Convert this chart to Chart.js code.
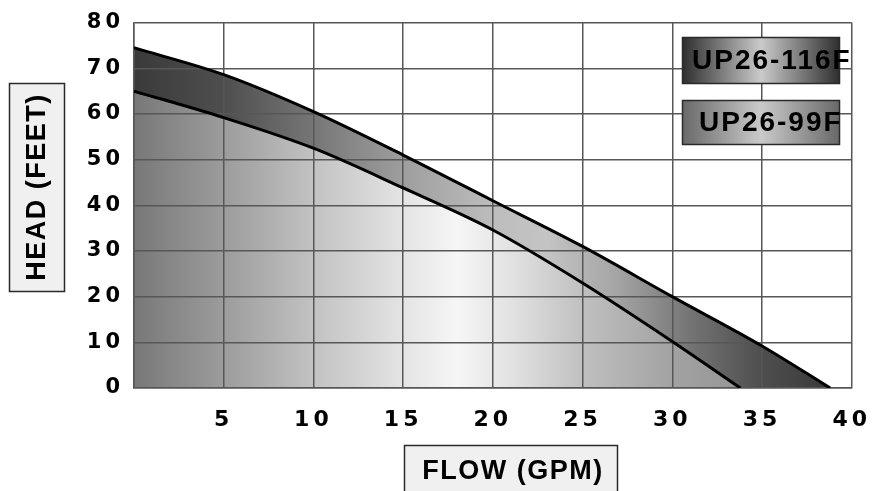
<!DOCTYPE html>
<html>
<head>
<meta charset="utf-8">
<script src="https://cdn.jsdelivr.net/npm/chart.js@4/dist/chart.umd.min.js"></script>
<style>
  html, body { margin: 0; padding: 0; background: #fff; }
  #wrap { width: 890px; height: 491px; position: relative; }
</style>
</head>
<body>
<div id="wrap"><canvas id="pump"></canvas></div>
<script>
// pump curves
const flow116 = [0, 5, 10, 15, 20, 25, 30, 35, 38.8];
const head116 = [74.5, 68.6, 60.5, 51, 41, 31, 20, 9.2, 0];
const flow99 = [0, 5, 10, 15, 20, 25, 30, 33.8];
const head99 = [65, 59.2, 52.5, 43.8, 34.6, 23, 10.2, 0];

const seriesNames = ["UP26-99F", "UP26-116F"];
const xTitle = "FLOW (GPM)";
const yTitle = "HEAD (FEET)";

function toPoints(xs, ys) {
  return xs.map((x, i) => ({ x: x, y: ys[i] }));
}

// horizontal gradient across the plot, stops given in flow units
function flowGradient(context, stops) {
  const chart = context.chart;
  if (!chart.chartArea) return "#999";
  const xs = chart.scales.x;
  const x0 = xs.getPixelForValue(0);
  const x1 = xs.getPixelForValue(40);
  const g = chart.ctx.createLinearGradient(x0, 0, x1, 0);
  stops.forEach(([v, c]) => g.addColorStop(v / 40, c));
  return g;
}

const lowStops = [[0, "#787878"], [5, "#9c9c9c"], [10, "#c2c2c2"], [15, "#e4e4e4"],
  [18, "#f6f6f6"], [21, "#e2e2e2"], [25, "#c0c0c0"], [30, "#a2a2a2"], [34, "#969696"], [40, "#909090"]];
const bandStops = [[0, "#3a3a3a"], [5, "#4e4e4e"], [10, "#767676"], [15, "#9e9e9e"],
  [20, "#bdbdbd"], [23, "#c4c4c4"], [27, "#a4a4a4"], [31, "#747474"], [35, "#4e4e4e"], [39, "#383838"]];

const spacing = {
  id: "spacing",
  beforeLayout(chart) { chart.ctx.letterSpacing = "4px"; },
  beforeDraw(chart) { chart.ctx.letterSpacing = "4px"; }
};

function boxedLabel(ctx, x, y, w, h, fill) {
  ctx.fillStyle = fill;
  ctx.fillRect(x, y, w, h);
  ctx.strokeStyle = "#2a2a2a";
  ctx.lineWidth = 1.5;
  ctx.strokeRect(x, y, w, h);
}

const decorations = {
  id: "decorations",
  afterDraw(chart) {
    const ctx = chart.ctx;
    ctx.save();
    ctx.fillStyle = "#000";

    // axis titles in grey boxes
    boxedLabel(ctx, 9.5, 83.5, 55, 208, "#f0f0f0");
    ctx.save();
    ctx.translate(38, 187);
    ctx.rotate(-Math.PI / 2);
    ctx.letterSpacing = "1.5px";
    ctx.font = "bold 27px 'Liberation Sans', Arial, sans-serif";
    ctx.fillStyle = "#000";
    ctx.textAlign = "center";
    ctx.textBaseline = "middle";
    ctx.fillText(yTitle, 0, 0);
    ctx.restore();

    boxedLabel(ctx, 404.5, 445.5, 213, 60, "#f0f0f0");
    ctx.letterSpacing = "1.5px";
    ctx.font = "bold 27px 'Liberation Sans', Arial, sans-serif";
    ctx.fillStyle = "#000";
    ctx.textAlign = "center";
    ctx.textBaseline = "middle";
    ctx.fillText(xTitle, 513, 472);

    // legend boxes
    const legend = [
      { name: seriesNames[1], y: 37.5, h: 46, tx: 692, ty: 61, edge: "#2e2e2e" },
      { name: seriesNames[0], y: 100.5, h: 44, tx: 699, ty: 123, edge: "#686868" }
    ];
    legend.forEach((it) => {
      const g = ctx.createLinearGradient(682, 0, 840, 0);
      g.addColorStop(0, it.edge);
      g.addColorStop(0.5, "#cacaca");
      g.addColorStop(1, it.edge);
      boxedLabel(ctx, 682.5, it.y, 157, it.h, g);
      ctx.fillStyle = "#000";
      ctx.letterSpacing = "2px";
      ctx.font = "bold 28px 'Liberation Sans', Arial, sans-serif";
      ctx.textAlign = "left";
      ctx.textBaseline = "middle";
      ctx.fillText(it.name, it.tx, it.ty);
    });
    ctx.restore();
  }
};

new Chart(document.getElementById("pump"), {
  type: "line",
  data: {
    datasets: [
      {
        label: seriesNames[0],
        data: toPoints(flow99, head99),
        borderColor: "#000",
        borderWidth: 3,
        pointRadius: 0,
        cubicInterpolationMode: "monotone",
        fill: "origin",
        backgroundColor: (c) => flowGradient(c, lowStops),
      },
      {
        label: seriesNames[1],
        data: toPoints(flow116, head116),
        borderColor: "#000",
        borderWidth: 3,
        pointRadius: 0,
        cubicInterpolationMode: "monotone",
        fill: "origin",
        backgroundColor: (c) => flowGradient(c, bandStops),
      },
    ],
  },
  options: {
    responsive: true,
    maintainAspectRatio: false,
    animation: false,
    layout: { padding: { top: 16, right: 31, left: 0, bottom: 0 } },
    plugins: {
      legend: { display: false },
      tooltip: { enabled: false },
      filler: { drawTime: "beforeDraw" },
    },
    scales: {
      x: {
        type: "linear",
        min: 0,
        max: 40,
        afterFit: (s) => { s.height = 103; },
        grid: { color: "#575757", lineWidth: 1.5, drawTicks: false },
        border: { color: "#575757", width: 1.5 },
        ticks: {
          stepSize: 5,
          padding: 19,
          color: "#000",
          font: { family: "'DejaVu Sans', sans-serif", size: 22, weight: "bold" },
          callback: (v) => (v === 0 ? "" : v),
        },
      },
      y: {
        min: 0,
        max: 80,
        afterFit: (s) => { s.width = 134; },
        grid: { color: "#575757", lineWidth: 1.5, drawTicks: false },
        border: { color: "#575757", width: 1.5 },
        ticks: {
          stepSize: 10,
          padding: 10,
          color: "#000",
          font: { family: "'DejaVu Sans', sans-serif", size: 21, weight: "bold" },
        },
      },
    },
  },
  plugins: [spacing, decorations],
});
</script>
</body>
</html>
